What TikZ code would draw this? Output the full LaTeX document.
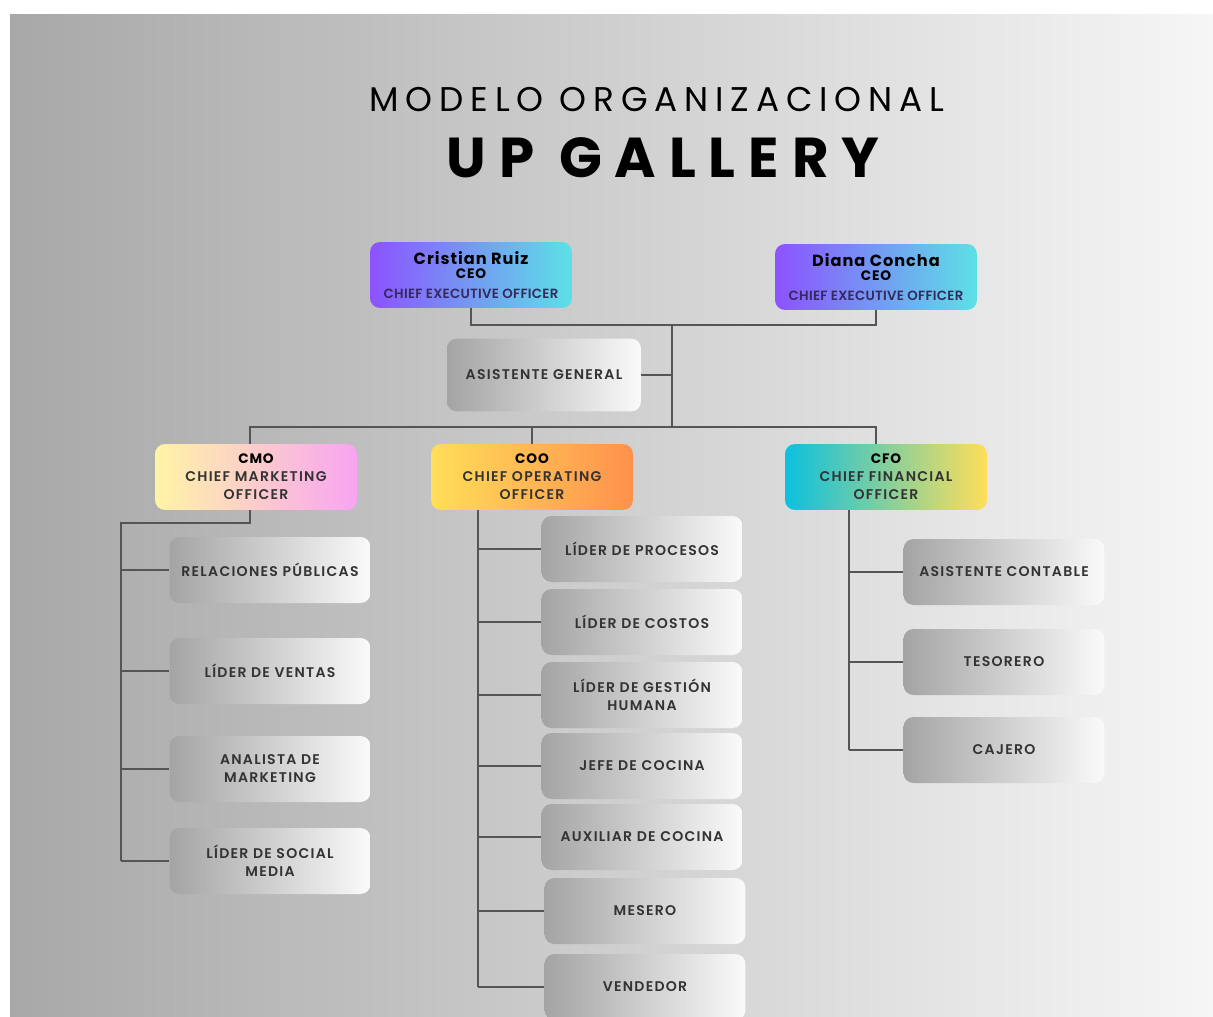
\documentclass[tikz,border=0pt]{standalone}
\usepackage{fontspec}
\setmainfont{Poppins}
\newfontfamily\titlefont{Poppins}[LetterSpace=20]
\newfontfamily\brandfont{Poppins}[LetterSpace=23]
\newfontfamily\headfont{Poppins}[LetterSpace=6]
\newfontfamily\ceofont{Poppins SemiBold}[LetterSpace=2]
\newfontfamily\boxfont{Poppins SemiBold}[LetterSpace=9]

\definecolor{bgleft}{HTML}{A8A8A8}
\definecolor{bgright}{HTML}{F6F6F6}
\definecolor{ceoleft}{HTML}{8C52FF}
\definecolor{ceoright}{HTML}{5CE1E6}
\definecolor{cmoleft}{HTML}{FFF4A6}
\definecolor{cmoright}{HTML}{F8A4F2}
\definecolor{cooleft}{HTML}{FFDE59}
\definecolor{cooright}{HTML}{FF914D}
\definecolor{cfoleft}{HTML}{0CC0DF}
\definecolor{cforight}{HTML}{FFDE59}
\definecolor{jobleft}{HTML}{A4A4A4}
\definecolor{jobright}{HTML}{FAFAFA}
\definecolor{linegray}{HTML}{555555}
\definecolor{labelgray}{HTML}{333333}
\definecolor{ceotext}{HTML}{35295E}

\tikzset{
	card/.style={rounded corners=0.2cm, minimum width=4.04cm, minimum height=1.32cm,
		inner sep=0pt, align=center, font=\boxfont\fontsize{8}{10.2}\selectfont},
	ceocard/.style={card, left color=ceoleft, right color=ceoright, text=ceotext,
		font=\ceofont\fontsize{7.6}{10.2}\selectfont},
	cmocard/.style={card, left color=cmoleft, right color=cmoright, text=labelgray},
	coocard/.style={card, left color=cooleft, right color=cooright, text=labelgray},
	cfocard/.style={card, left color=cfoleft, right color=cforight, text=labelgray},
	jobcard/.style={card, left color=jobleft, right color=jobright, text=labelgray, minimum width=4.02cm},
	link/.style={draw=linegray, line width=1.1pt},
}
\newcommand{\person}[1]{{\headfont\bfseries\color{black}\fontsize{9.2}{10}\selectfont #1}}
\newcommand{\post}[1]{{\headfont\bfseries\color{black}\fontsize{7.8}{10}\selectfont #1}}

\begin{document}
\begin{tikzpicture}[x=0.02cm, y=-0.02cm]
		\useasboundingbox (0,0) rectangle (1213,1017);
		\fill[white] (0,0) rectangle (1213,1017);
		\shade[left color=bgleft, right color=bgright] (10,15) rectangle (1213,1017);

		% headings
		\node[font=\titlefont\fontsize{19.5}{20}\selectfont] (heading) at (657,100) {MODELO ORGANIZACIONAL};
		\node[font=\brandfont\bfseries\fontsize{32}{34}\selectfont] (brand) at (663,158) {UP GALLERY};

		% CEOs and assistant
		\node[ceocard] (cristian) at (471,275) {\person{Cristian Ruiz}\\[-2pt] \post{CEO}\\[1pt] CHIEF EXECUTIVE OFFICER};
		\node[ceocard] (diana) at (876,277) {\person{Diana Concha}\\[-2pt] \post{CEO}\\[1pt] CHIEF EXECUTIVE OFFICER};
		\node[jobcard, minimum width=3.88cm, minimum height=1.46cm] (asistente) at (544,375) {ASISTENTE GENERAL};

		% chiefs
		\node[cmocard] (cmo) at (256,477) {\post{CMO}\\ CHIEF MARKETING\\ OFFICER};
		\node[coocard] (coo) at (532,477) {\post{COO}\\ CHIEF OPERATING\\ OFFICER};
		\node[cfocard] (cfo) at (886,477) {\post{CFO}\\ CHIEF FINANCIAL\\ OFFICER};

		% marketing
		\node[jobcard] (relaciones) at (270,570) {RELACIONES PÚBLICAS};
		\node[jobcard] (ventas) at (270,671) {LÍDER DE VENTAS};
		\node[jobcard] (analista) at (270,769) {ANALISTA DE\\ MARKETING};
		\node[jobcard] (social) at (270,861) {LÍDER DE SOCIAL\\ MEDIA};

		% operations
		\node[jobcard] (procesos) at (642,549) {LÍDER DE PROCESOS};
		\node[jobcard] (costos) at (642,622) {LÍDER DE COSTOS};
		\node[jobcard] (gestion) at (642,695) {LÍDER DE GESTIÓN\\ HUMANA};
		\node[jobcard] (jefe) at (642,766) {JEFE DE COCINA};
		\node[jobcard] (auxiliar) at (642,837) {AUXILIAR DE COCINA};
		\node[jobcard] (mesero) at (645,911) {MESERO};
		\node[jobcard] (vendedor) at (645,987) {VENDEDOR};

		% finance
		\node[jobcard] (contable) at (1004,572) {ASISTENTE CONTABLE};
		\node[jobcard] (tesorero) at (1004,662) {TESORERO};
		\node[jobcard] (cajero) at (1004,750) {CAJERO};

		% lines
		\coordinate (ceojoin) at (672,325);
		\coordinate (chiefjoin) at (672,427);
		\coordinate (cmorail) at (121,523);
		\coordinate (coorail) at (478,510);
		\coordinate (cforail) at (849,510);

		\draw[link] (cristian.south) |- (ceojoin) -| (diana.south);
		\draw[link] (ceojoin) -- (chiefjoin);
		\draw[link] (asistente.east) -- (asistente.east -| ceojoin);
		\draw[link] ([xshift=-0.12cm]cmo.north) |- (chiefjoin) -| ([xshift=-0.2cm]cfo.north);
		\draw[link] (coo.north) -- (coo.north |- chiefjoin);

		\draw[link] ([xshift=-0.12cm]cmo.south) |- (cmorail) -- (cmorail |- social.west);
		\draw[link] (cmorail |- relaciones.west) -- (relaciones.west);
		\draw[link] (cmorail |- ventas.west) -- (ventas.west);
		\draw[link] (cmorail |- analista.west) -- (analista.west);
		\draw[link] (cmorail |- social.west) -- (social.west);

		\draw[link] (coorail) -- (coorail |- vendedor.west);
		\draw[link] (coorail |- procesos.west) -- (procesos.west);
		\draw[link] (coorail |- costos.west) -- (costos.west);
		\draw[link] (coorail |- gestion.west) -- (gestion.west);
		\draw[link] (coorail |- jefe.west) -- (jefe.west);
		\draw[link] (coorail |- auxiliar.west) -- (auxiliar.west);
		\draw[link] (coorail |- mesero.west) -- (mesero.west);
		\draw[link] (coorail |- vendedor.west) -- (vendedor.west);

		\draw[link] (cforail) -- (cforail |- cajero.west);
		\draw[link] (cforail |- contable.west) -- (contable.west);
		\draw[link] (cforail |- tesorero.west) -- (tesorero.west);
		\draw[link] (cforail |- cajero.west) -- (cajero.west);
\end{tikzpicture}
\end{document}
